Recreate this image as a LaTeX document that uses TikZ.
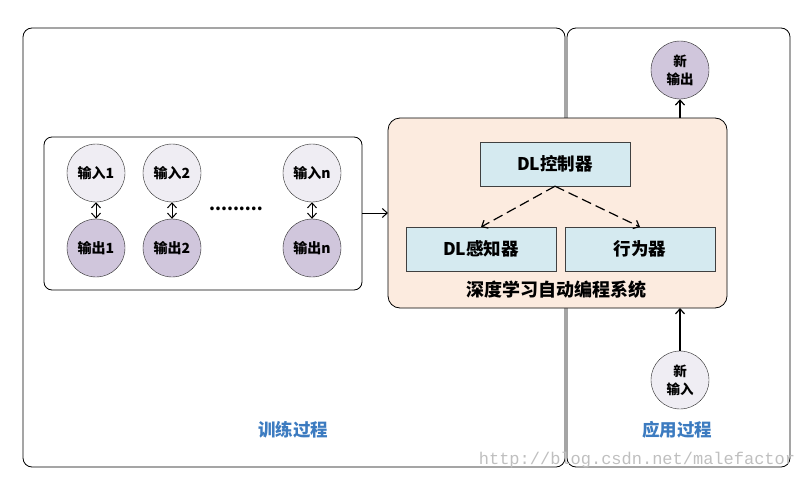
\documentclass[tikz,border=0pt]{standalone}
\usepackage{fontspec}
\setmainfont{Noto Sans CJK SC}
\newfontfamily\markfont{Liberation Mono}
\usetikzlibrary{arrows.meta}
\usetikzlibrary{positioning}
\usepackage{xcolor}
\definecolor{inlav}{HTML}{EFEDF3}
\definecolor{outlav}{HTML}{D0C6DC}
\definecolor{sysbg}{HTML}{FCEBDF}
\definecolor{modblue}{HTML}{D5EAF0}
\definecolor{stageblue}{HTML}{3C7BC0}

\begin{document}
\begin{tikzpicture}[x=1pt,y=-1pt,>={Straight Barb[length=5pt,width=9pt]},
    incirc/.style={circle,draw=black!85,fill=inlav,minimum size=58pt,inner sep=0pt,font=\bfseries\fontsize{14}{16}\selectfont,align=center},
    outcirc/.style={incirc,fill=outlav},
    modbox/.style={rectangle,draw=black!75,fill=modblue,minimum width=150pt,minimum height=44pt,inner sep=0pt,font=\bfseries\fontsize{17.5}{20}\selectfont},
    stage/.style={text=stageblue,font=\bfseries\fontsize{17.5}{20}\selectfont}]
				\useasboundingbox (0,0) rectangle (802,479);
				% 训练过程 / 应用过程 两个区域
				\draw[rounded corners=9pt, line width=0.8pt] (23,28) rectangle (565,467);
				\draw[rounded corners=9pt, line width=0.8pt] (567,28) rectangle (790,467);
				\node[stage] (train) at (293,430) {训练过程};
				\node[stage] (apply) at (677,430) {应用过程};
				% 样本框
				\draw[rounded corners=8pt, line width=0.8pt, fill=white] (44,137) rectangle (362,290);
				\coordinate (samp) at (362,213);
				\node[incirc] (in1) at (96,173) {输入1};
				\node[incirc] (in2) at (172,173) {输入2};
				\node[incirc] (inn) at (312,173) {输入n};
				\node[outcirc] (out1) at (96,248) {输出1};
				\node[outcirc] (out2) at (172,248) {输出2};
				\node[outcirc] (outn) at (312,248) {输出n};
				\draw[<->, line width=1pt] (in1) -- (out1);
				\draw[<->, line width=1pt] (in2) -- (out2);
				\draw[<->, line width=1pt] (inn) -- (outn);
				\node[font=\bfseries\fontsize{17}{18}\selectfont] (dots) at (236,209) {.........};
				% 深度学习自动编程系统
				\draw[rounded corners=12pt, line width=0.8pt, fill=sysbg] (388,118) rectangle (727,308);
				\coordinate (sysl) at (388,213);
				\coordinate (syst) at (680,118);
				\coordinate (sysb) at (680,308);
				\draw[->, line width=1pt] (samp) -- (sysl);
				\node[modbox] (ctrl) at (555,164) {DL控制器};
				\node[modbox] (perc) at (481,249) {DL感知器};
				\node[modbox] (act) at (640,249) {行为器};
				\node[font=\bfseries\fontsize{18}{20}\selectfont] (sysname) at (556,290) {深度学习自动编程系统};
				\coordinate (percin) at (481,227);
				\coordinate (actin) at (640,227);
				\draw[->, dash pattern=on 10pt off 5pt, line width=1.2pt] (ctrl.south) -- (percin);
				\draw[->, dash pattern=on 10pt off 5pt, line width=1.2pt] (ctrl.south) -- (actin);
				% 应用
				\node[outcirc, font=\bfseries\fontsize{13.5}{18}\selectfont] (newout) at (680,70) {新\\输出};
				\node[incirc, font=\bfseries\fontsize{13.5}{18}\selectfont] (newin) at (680,380) {新\\输入};
				\draw[->, line width=1.2pt] (syst) -- (newout);
				\draw[->, line width=1.2pt] (newin) -- (sysb);
				\node[text=black!25, font=\markfont\fontsize{17}{18}\selectfont] (mark) at (637,460) {http://blog.csdn.net/malefactor};
			\end{tikzpicture}
\end{document}
